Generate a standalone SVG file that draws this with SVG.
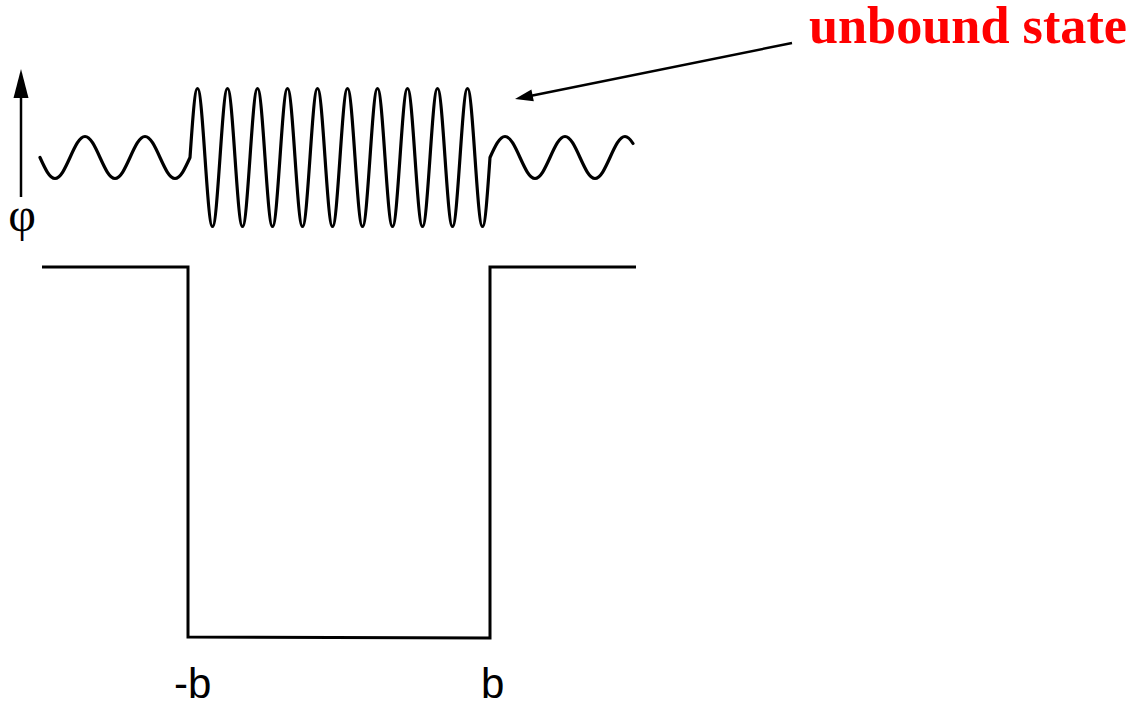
<svg xmlns="http://www.w3.org/2000/svg" width="1135" height="704" viewBox="0 0 1135 704">
<style>
.ln{fill:none;stroke:#000;stroke-width:3;stroke-linejoin:miter;stroke-linecap:butt}
.wave{fill:none;stroke:#000;stroke-width:3.2;stroke-linejoin:round;stroke-linecap:round}
.lbl{font-family:"Liberation Sans",Arial,sans-serif;font-size:42px;fill:#000}
.phi{font-family:"Liberation Serif","Times New Roman",serif;font-size:48px;fill:#000}
.title{font-family:"Liberation Serif","Times New Roman",serif;font-size:52px;font-weight:bold;fill:#ff0000}
.ah{fill:#000;stroke:none}
</style>
<rect width="1135" height="704" fill="#fff"/>
<g id="axis">
<line x1="21" y1="197" x2="21" y2="92" stroke="#000" stroke-width="2.5"/>
<polygon class="ah" points="21,69 13.5,98 28.5,98"/>
<text class="phi" x="22" y="231" text-anchor="middle">φ</text>
</g>
<g id="well">
<polyline class="ln" points="42,267 188,267 188,637 490,638 490,267 636,267"/>
<text class="lbl" x="174" y="698">-b</text>
<text class="lbl" x="481" y="698">b</text>
</g>
<g id="wavefunction">
<path class="wave" d="M40,157.5
c4.89,10.76 9.57,21 15,21 c5.43,0 10.11,-10.24 15,-21 c4.89,-10.76 9.57,-21 15,-21 c5.43,0 10.11,10.24 15,21
c4.89,10.76 9.57,21 15,21 c5.43,0 10.11,-10.24 15,-21 c4.89,-10.76 9.57,-21 15,-21 c5.43,0 10.11,10.24 15,21
c4.89,10.76 9.57,21 15,21 c5.43,0 10.11,-10.24 15,-21
c2.45,-35.35 4.79,-69 7.5,-69 c2.71,0 5.05,33.65 7.5,69 c2.45,35.35 4.79,69 7.5,69 c2.71,0 5.05,-33.65 7.5,-69
c2.45,-35.35 4.79,-69 7.5,-69 c2.71,0 5.05,33.65 7.5,69 c2.45,35.35 4.79,69 7.5,69 c2.71,0 5.05,-33.65 7.5,-69
c2.45,-35.35 4.79,-69 7.5,-69 c2.71,0 5.05,33.65 7.5,69 c2.45,35.35 4.79,69 7.5,69 c2.71,0 5.05,-33.65 7.5,-69
c2.45,-35.35 4.79,-69 7.5,-69 c2.71,0 5.05,33.65 7.5,69 c2.45,35.35 4.79,69 7.5,69 c2.71,0 5.05,-33.65 7.5,-69
c2.45,-35.35 4.79,-69 7.5,-69 c2.71,0 5.05,33.65 7.5,69 c2.45,35.35 4.79,69 7.5,69 c2.71,0 5.05,-33.65 7.5,-69
c2.45,-35.35 4.79,-69 7.5,-69 c2.71,0 5.05,33.65 7.5,69 c2.45,35.35 4.79,69 7.5,69 c2.71,0 5.05,-33.65 7.5,-69
c2.45,-35.35 4.79,-69 7.5,-69 c2.71,0 5.05,33.65 7.5,69 c2.45,35.35 4.79,69 7.5,69 c2.71,0 5.05,-33.65 7.5,-69
c2.45,-35.35 4.79,-69 7.5,-69 c2.71,0 5.05,33.65 7.5,69 c2.45,35.35 4.79,69 7.5,69 c2.71,0 5.05,-33.65 7.5,-69
c2.45,-35.35 4.79,-69 7.5,-69 c2.71,0 5.05,33.65 7.5,69 c2.45,35.35 4.79,69 7.5,69 c2.71,0 5.05,-33.65 7.5,-69
c2.45,-35.35 4.79,-69 7.5,-69 c2.71,0 5.05,33.65 7.5,69 c2.45,35.35 4.79,69 7.5,69 c2.71,0 5.05,-33.65 7.5,-69
c4.89,-10.76 9.57,-21 15,-21 c5.43,0 10.11,10.24 15,21 c4.89,10.76 9.57,21 15,21 c5.43,0 10.11,-10.24 15,-21
c4.89,-10.76 9.57,-21 15,-21 c5.43,0 10.11,10.24 15,21 c4.89,10.76 9.57,21 15,21 c5.43,0 10.11,-10.24 15,-21
c4.89,-10.76 9.57,-21 15,-21 c3,0 5.5,3 8,7"/>
</g>
<g id="label-unbound">
<text class="title" x="809" y="43" textLength="318" lengthAdjust="spacingAndGlyphs">unbound state</text>
</g>
<g id="connectors">
<line x1="792" y1="43" x2="530" y2="96" stroke="#000" stroke-width="2.5"/>
<polygon class="ah" points="515,99 531.4,89.5 533.8,101.3"/>
</g>
</svg>
